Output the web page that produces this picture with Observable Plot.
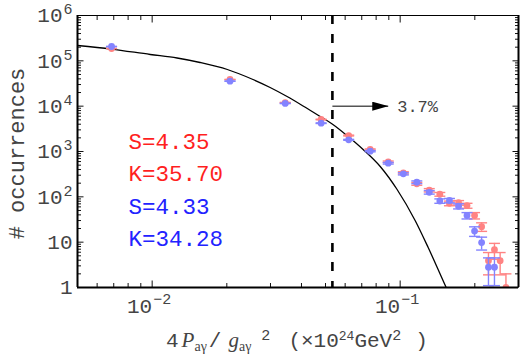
<!DOCTYPE html>
<html><head><meta charset="utf-8">
<script src="https://cdn.jsdelivr.net/npm/d3@7"></script>
<script src="https://cdn.jsdelivr.net/npm/@observablehq/plot@0.6"></script>
<style>body{margin:0;background:#fff} svg{display:block}</style>
</head><body><div id="chart"></div>
<script>
// ---- data ----
const binX = [0.00686, 0.0206, 0.0344, 0.048, 0.0620, 0.0757, 0.0895, 0.103, 0.1167, 0.131,
              0.1445, 0.158, 0.172, 0.186, 0.1995, 0.213, 0.227, 0.240, 0.253, 0.267];
const redY = [1.87e5, 3.87e4, 1.2e4, 5080, 2250, 1107, 593, 339, 194, 140,
              114, 72, 74, 64, 38.7, 22, 3.9, 6.8, 3.9, 1.0];
const redErr = [430, 197, 110, 71, 47, 33, 24, 18.4, 14, 11.8,
                10.7, 8.5, 8.6, 8, 6.2, 4.7, 2.0, 2.6, 2.0, 1.0];
const blueY = [2.07e5, 3.56e4, 1.15e4, 4210, 1810, 1016, 552, 322, 210, 126,
               81, 83, 62, 38.7, 17.6, 9.8, 2.8, 2.8];
const blueErr = [455, 189, 107, 65, 42.5, 32, 23.5, 18, 14.5, 11.2,
                 9, 9.1, 7.9, 6.2, 4.2, 3.1, 1.7, 1.7];
const curveX = [0.005, 0.00684, 0.00982, 0.0126, 0.0156, 0.0201, 0.0255, 0.0299, 0.0350, 0.0406,
                0.0476, 0.0532, 0.0617, 0.0709, 0.0831, 0.0972, 0.1149, 0.1297, 0.1533, 0.162];
const curveY = [2.18e5, 1.82e5, 1.38e5, 1.155e5, 9.19e4, 6.44e4, 3.87e4, 2.58e4, 1.63e4, 1.01e4,
                5920, 4050, 2140, 1107, 467, 145, 30.1, 7.62, 1.0, 0.52];
const cutX = 0.0533, arrowTipX = 0.0895, arrowY = 1e4, arrowLabel = "3.7%";
const xDomain = [0.005, 0.3], yDomain = [1, 1e6];
const yTicks = [1, 10, 100, 1e3, 1e4, 1e5, 1e6];
const yTickBase = ["1", "10", "10", "10", "10", "10", "10"];
const yTickExp = ["", "", "2", "3", "4", "5", "6"];
const xTicks = [0.01, 0.1];
const xTickBase = ["10", "10"];
const xTickExp = ["\u22122", "\u22121"];
const statsText = ["S=4.35", "K=35.70", "S=4.33", "K=34.28"];
const statsColor = ["#ff1f1f", "#ff1f1f", "#2222ff", "#2222ff"];
const yLabel = "# occurrences";

// ---- derived tables ----
const red = redY.map((v, i) => ({x: binX[i], y: v, lo: Math.max(v - redErr[i], 0.5), hi: v + redErr[i]}));
const blue = blueY.map((v, i) => ({x: binX[i], y: v, lo: Math.max(v - blueErr[i], 0.5), hi: v + blueErr[i]}));
const curve = curveX.map((x, i) => ({x, y: curveY[i]}));
const yt = yTicks.map((v, i) => ({v, base: yTickBase[i], exp: yTickExp[i]}));
const xt = xTicks.map((v, i) => ({v, base: xTickBase[i], exp: xTickExp[i]}));
const yAllTicks = d3.scaleLog().domain(yDomain).ticks();
const xAllTicks = d3.scaleLog().domain(xDomain).ticks();
const isMajor = v => Math.abs(Math.log10(v) - Math.round(Math.log10(v))) < 1e-9;

const seg = (dx, dy) => ({draw(ctx) { ctx.moveTo(0, 0); ctx.lineTo(dx, dy); }});
const cap = {draw(ctx) { ctx.moveTo(-5.5, 0); ctx.lineTo(5.5, 0); }};
const MONO = "Liberation Mono, DejaVu Sans Mono, monospace";
const TXT = "#444";

const redC = "#ff8383", blueC = "#8383ff";
const tickMarks = [];
for (const [arr, axis] of [[yAllTicks, "y"], [xAllTicks, "x"]]) {
  const maj = arr.filter(isMajor), min = arr.filter(v => !isMajor(v));
  for (const [set, L] of [[maj, axis === "y" ? 6 : 7], [min, axis === "y" ? 3.5 : 4.5]]) {
    if (axis === "y") {
      tickMarks.push(Plot.dot(set, {x: xDomain[0], y: d => d, symbol: seg(L, 0), stroke: "#111", fill: "none", strokeWidth: 1}));
      tickMarks.push(Plot.dot(set, {x: xDomain[1], y: d => d, symbol: seg(-L, 0), stroke: "#111", fill: "none", strokeWidth: 1}));
    } else {
      tickMarks.push(Plot.dot(set, {x: d => d, y: yDomain[0], symbol: seg(0, -L), stroke: "#111", fill: "none", strokeWidth: 1}));
      tickMarks.push(Plot.dot(set, {x: d => d, y: yDomain[1], symbol: seg(0, L), stroke: "#111", fill: "none", strokeWidth: 1}));
    }
  }
}

const errMarks = (data, c) => [
  Plot.ruleX(data, {x: "x", y1: "lo", y2: "hi", stroke: c, strokeWidth: 1.4, clip: true}),
  Plot.dot(data, {x: "x", y: "lo", symbol: cap, stroke: c, fill: "none", strokeWidth: 1.4, clip: true}),
  Plot.dot(data, {x: "x", y: "hi", symbol: cap, stroke: c, fill: "none", strokeWidth: 1.4, clip: true}),
  Plot.dot(data, {x: "x", y: "y", r: 3.4, fill: c, stroke: "none", clip: true})
];

const statMarks = statsText.map((t, i) => Plot.text([t], {
  frameAnchor: "top-left", dx: 51, dy: [126, 158.5, 191, 223][i], text: d => d,
  textAnchor: "start", lineAnchor: "middle", fill: statsColor[i], fontSize: 22.5, fontFamily: MONO
}));

const plot = Plot.plot({
  width: 525, height: 357,
  marginLeft: 77, marginRight: 7, marginTop: 15, marginBottom: 70,
  x: {type: "log", domain: xDomain, axis: null},
  y: {type: "log", domain: yDomain, axis: null},
  style: {background: "#fff", fontFamily: MONO},
  marks: [
    ...tickMarks,
    Plot.line(curve, {x: "x", y: "y", stroke: "#000", strokeWidth: 1.3, curve: "monotone-x", clip: true}),
    ...errMarks(red, redC),
    ...errMarks(blue, blueC),
    Plot.ruleX([cutX], {stroke: "#000", strokeWidth: 2.6, strokeDasharray: "9,10"}),
    Plot.ruleX([xDomain[0]], {stroke: "#000", strokeWidth: 2}),
    Plot.ruleX([xDomain[1]], {stroke: "#000", strokeWidth: 2}),
    Plot.ruleY([yDomain[0]], {stroke: "#000", strokeWidth: 2}),
    Plot.ruleY([yDomain[1]], {stroke: "#000", strokeWidth: 1}),
    Plot.link([0], {x1: cutX, x2: arrowTipX, y1: arrowY, y2: arrowY, stroke: "#555", strokeWidth: 1.5, className: "arrowlink"}),
    Plot.text([arrowLabel], {x: arrowTipX, y: arrowY, text: d => d, dx: 9, textAnchor: "start", lineAnchor: "middle", fill: TXT, fontSize: 17, fontFamily: MONO}),
    ...statMarks,
    // y tick labels
    Plot.text(yt.filter(d => d.exp), {frameAnchor: "left", y: "v", text: "base", textAnchor: "end", lineAnchor: "middle", dx: -15, fill: TXT, fontSize: 21, fontFamily: MONO}),
    Plot.text(yt.filter(d => !d.exp), {frameAnchor: "left", y: "v", text: "base", textAnchor: "end", lineAnchor: "middle", dx: -5, fill: TXT, fontSize: 21, fontFamily: MONO}),
    Plot.text(yt.filter(d => d.exp), {frameAnchor: "left", y: "v", text: "exp", textAnchor: "end", lineAnchor: "middle", dx: -5, dy: -6, fill: TXT, fontSize: 15, fontFamily: MONO}),
    // x tick labels
    Plot.text(xt, {frameAnchor: "bottom", x: "v", text: "base", textAnchor: "end", lineAnchor: "middle", dx: 0, dy: 18.5, fill: TXT, fontSize: 21, fontFamily: MONO}),
    Plot.text(xt, {frameAnchor: "bottom", x: "v", text: "exp", textAnchor: "start", lineAnchor: "middle", dx: 1, dy: 12, fill: TXT, fontSize: 15, fontFamily: MONO}),
    // y label
    Plot.text([yLabel], {frameAnchor: "left", text: d => d, rotate: -90, textAnchor: "middle", lineAnchor: "middle", dx: -61, dy: 2, fill: TXT, fontSize: 22, fontFamily: MONO})
  ]
});

const svg = d3.select(plot);
const defs = svg.append("defs");
defs.append("marker").attr("id", "ahead").attr("viewBox", "0 0 16 9")
  .attr("refX", 16).attr("refY", 4.5).attr("markerWidth", 16).attr("markerHeight", 9)
  .attr("markerUnits", "userSpaceOnUse").attr("orient", "auto")
  .append("path").attr("d", "M0,0L16,4.5L0,9Z").attr("fill", "#000");
svg.selectAll(".arrowlink path").attr("marker-end", "url(#ahead)");

// x-axis label with sub/superscripts
const lab = svg.append("text").attr("x", 166).attr("y", 347).attr("text-anchor", "start")
  .attr("font-family", MONO).attr("font-size", 21).attr("fill", TXT);
const SERIF = "Liberation Serif, DejaVu Serif, serif";
lab.append("tspan").text("4");
lab.append("tspan").attr("font-family", SERIF).attr("font-style", "italic").attr("dx", 3).text("P");
lab.append("tspan").attr("font-family", SERIF).attr("font-size", 14).attr("dy", 4).text("a\u03b3");
lab.append("tspan").attr("dy", -4).attr("dx", 2).text("/");
lab.append("tspan").attr("font-family", SERIF).attr("font-style", "italic").attr("dx", 7).text("g");
lab.append("tspan").attr("font-family", SERIF).attr("font-size", 14).attr("dy", 4).text("a\u03b3");
lab.append("tspan").attr("font-size", 15).attr("dy", -11).attr("dx", 10).text("2");
lab.append("tspan").attr("dy", 7).attr("dx", 18).text("(\u00d710");
lab.append("tspan").attr("font-size", 13).attr("dy", -7).text("24");
lab.append("tspan").attr("dy", 7).text("GeV");
lab.append("tspan").attr("font-size", 15).attr("dy", -7).text("2");
lab.append("tspan").attr("dy", 7).attr("dx", 14).text(")");

document.getElementById("chart").appendChild(plot);
</script>
</body></html>
